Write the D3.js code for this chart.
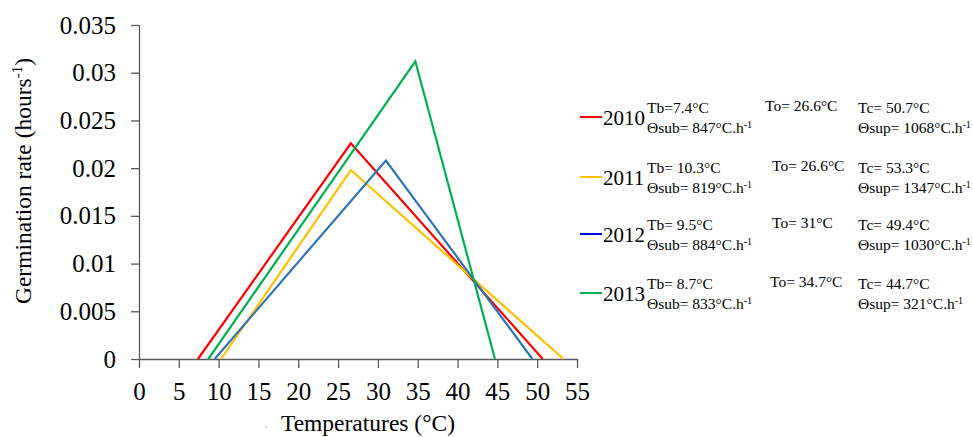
<!DOCTYPE html>
<html><head><meta charset="utf-8">
<script src="https://cdn.jsdelivr.net/npm/d3@7"></script>
<style>body{margin:0;background:#fff}svg{display:block}text{font-family:"Liberation Serif","Times New Roman",serif;fill:#000}</style>
</head><body><svg id="c" width="973" height="437"></svg>
<script>
const years = ["2010","2011","2012","2013"];
const colors = ["#ff0000","#ffc000","#2e75b6","#00b050"];
const legendColors = ["#ff0000","#ffc000","#0000ff","#00b050"];
const Tb = [7.4, 10.3, 9.5, 8.7];
const To = [26.6, 26.6, 31, 34.7];
const Tc = [50.7, 53.3, 49.4, 44.7];
const peakRate = [0.0226, 0.0198, 0.0208, 0.0312];
const thetaSub = [847, 819, 884, 833];
const thetaSup = [1068, 1347, 1030, 321];
const tbLabels = ["Tb=7.4°C","Tb= 10.3°C","Tb= 9.5°C","Tb= 8.7°C"];
const toLabels = ["To= 26.6°C","To= 26.6°C","To= 31°C","To= 34.7°C"];
const tcLabels = ["Tc= 50.7°C","Tc= 53.3°C","Tc= 49.4°C","Tc= 44.7°C"];
const xTicks = [0,5,10,15,20,25,30,35,40,45,50,55];
const yTicks = [0,0.005,0.01,0.015,0.02,0.025,0.03,0.035];
const yTickLabels = ["0","0.005","0.01","0.015","0.02","0.025","0.03","0.035"];

const svg = d3.select("#c");
const x = d3.scaleLinear().domain([0,55]).range([139,577]);
const y = d3.scaleLinear().domain([0,0.035]).range([359,25]);
const axisColor = "#595959";

// axes
const gx = svg.append("g").attr("transform","translate(0,359)")
  .call(d3.axisBottom(x).tickValues(xTicks).tickSize(9).tickPadding(14).tickFormat(d=>d));
const gy = svg.append("g").attr("transform","translate(139,0)")
  .call(d3.axisLeft(y).tickValues(yTicks).tickSize(8).tickPadding(15).tickFormat((d,i)=>yTickLabels[i]));
[gx,gy].forEach(g=>{
  g.selectAll("path,line").attr("stroke",axisColor).attr("stroke-width",1.3);
  g.selectAll("text").style("font-family","'Liberation Serif',serif").style("font-size","25px").attr("fill","#000");
});
gx.select(".domain").attr("d","M139,0.5H577");
gy.select(".domain").attr("d","M0.5,25V359");

// lines
const line = d3.line().x(d=>x(d[0])).y(d=>y(d[1]));
years.forEach((yr,i)=>{
  const pts = [[Tb[i],0],[To[i],peakRate[i]],[Tc[i],0]];
  svg.append("path").datum(pts).attr("d",line).attr("fill","none")
    .attr("stroke",colors[i]).attr("stroke-width",2.2).attr("stroke-linejoin","miter");
});

// axis titles
const yl = svg.append("text").attr("transform","translate(31,181) rotate(-90)")
  .attr("text-anchor","middle").style("font-size","23.5px");
yl.append("tspan").text("Germination rate (hours");
yl.append("tspan").text("-1").style("font-size","15px").attr("dy",-9);
yl.append("tspan").text(")").attr("dy",9);
svg.append("text").attr("x",368).attr("y",431).attr("text-anchor","middle")
  .style("font-size","23.5px").text("Temperatures (°C)");
svg.append("circle").attr("cx",266).attr("cy",427).attr("r",0.8).attr("fill","#999");

// legend
const rowY = [117,177,234,293];
const toX = [765,772,772,770];
years.forEach((yr,i)=>{
  const cy = rowY[i];
  svg.append("line").attr("x1",580).attr("x2",602).attr("y1",cy).attr("y2",cy)
    .attr("stroke",legendColors[i]).attr("stroke-width",2);
  svg.append("text").attr("x",603).attr("y",cy+8).style("font-size","21px").text(yr);
  svg.append("text").attr("x",647).attr("y",cy-4).style("font-size","15.5px").text(tbLabels[i]);
  const s = svg.append("text").attr("x",647).attr("y",cy+16).style("font-size","15.5px");
  s.append("tspan").text("Θsub= "+thetaSub[i]+"°C.h");
  s.append("tspan").text("-1").style("font-size","10px").attr("dy",-5);
  svg.append("text").attr("x",toX[i]).attr("y",cy-6).style("font-size","15.5px").text(toLabels[i]);
  svg.append("text").attr("x",858).attr("y",cy-4).style("font-size","15.5px").text(tcLabels[i]);
  const p = svg.append("text").attr("x",858).attr("y",cy+16).style("font-size","15.5px");
  p.append("tspan").text("Θsup= "+thetaSup[i]+"°C.h");
  p.append("tspan").text("-1").style("font-size","10px").attr("dy",-5);
});
</script></body></html>
